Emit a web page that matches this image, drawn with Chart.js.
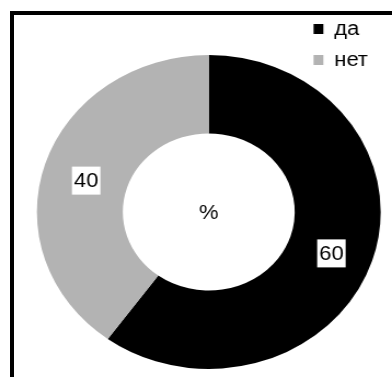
<!DOCTYPE html>
<html>
<head>
<meta charset="utf-8">
<script src="https://cdn.jsdelivr.net/npm/chart.js@4"></script>
<style>
  body { margin: 0; background: #fff; overflow: hidden; }
  /* thick frame, runs off the right and bottom edges like in the picture */
  #frame { position: absolute; left: 10px; top: 11px; width: 500px; height: 500px; border: 4px solid #000; }
  #answers { position: absolute; left: 0; top: 0; }
</style>
</head>
<body>
<div id="frame"></div>
<!-- the source image is stretched sideways, so the canvas is stretched the same way -->
<canvas id="answers" width="358" height="416" style="width: 392px; height: 416px;"></canvas>
<script>
let answerLabels = ['да', 'нет'];
let answerValues = [60, 40];
let answerColors = ['#000000', '#b3b3b3'];
let centerText = '%';

let fontFamily = '"Liberation Sans", Arial, sans-serif';

// value boxes on the slices and the % in the hole
let sliceLabels = {
  id: 'sliceLabels',
  afterDatasetsDraw(chart) {
    let ctx = chart.ctx;
    let meta = chart.getDatasetMeta(0);
    ctx.save();
    ctx.font = '20px ' + fontFamily;
    ctx.textAlign = 'center';
    ctx.textBaseline = 'middle';
    meta.data.forEach((arc, i) => {
      let p = arc.tooltipPosition();
      let y = p.y + 5; // excel puts them a touch lower than the ring middle
      ctx.fillStyle = '#fff';
      ctx.fillRect(p.x - 13, y - 14, 26, 28);
      ctx.fillStyle = '#000';
      ctx.fillText(String(answerValues[i]), p.x, y + 1);
    });
    let mid = meta.data[0];
    ctx.fillStyle = '#000';
    ctx.fillText(centerText, mid.x, mid.y + 1);
    ctx.restore();
  }
};

let inputAnswers = {
  labels: answerLabels,
  datasets: [{
    data: answerValues,
    backgroundColor: answerColors,
    borderWidth: 0,
    radius: 157,
    cutout: '50%',
    clip: false
  }]
};

let answers = document.getElementById('answers');
let myChart = new Chart(answers, {
  type: 'doughnut',
  data: inputAnswers,
  options: {
    responsive: false,
    animation: false,
    layout: { padding: { left: 106, right: 12, top: 8, bottom: 0 } },
    plugins: {
      legend: {
        position: 'right',
        align: 'start',
        labels: {
          boxWidth: 9,
          boxHeight: 10,
          padding: 11,
          color: '#000',
          font: { size: 20, family: fontFamily }
        }
      },
      tooltip: { enabled: false }
    }
  },
  plugins: [sliceLabels]
});
</script>
</body>
</html>
